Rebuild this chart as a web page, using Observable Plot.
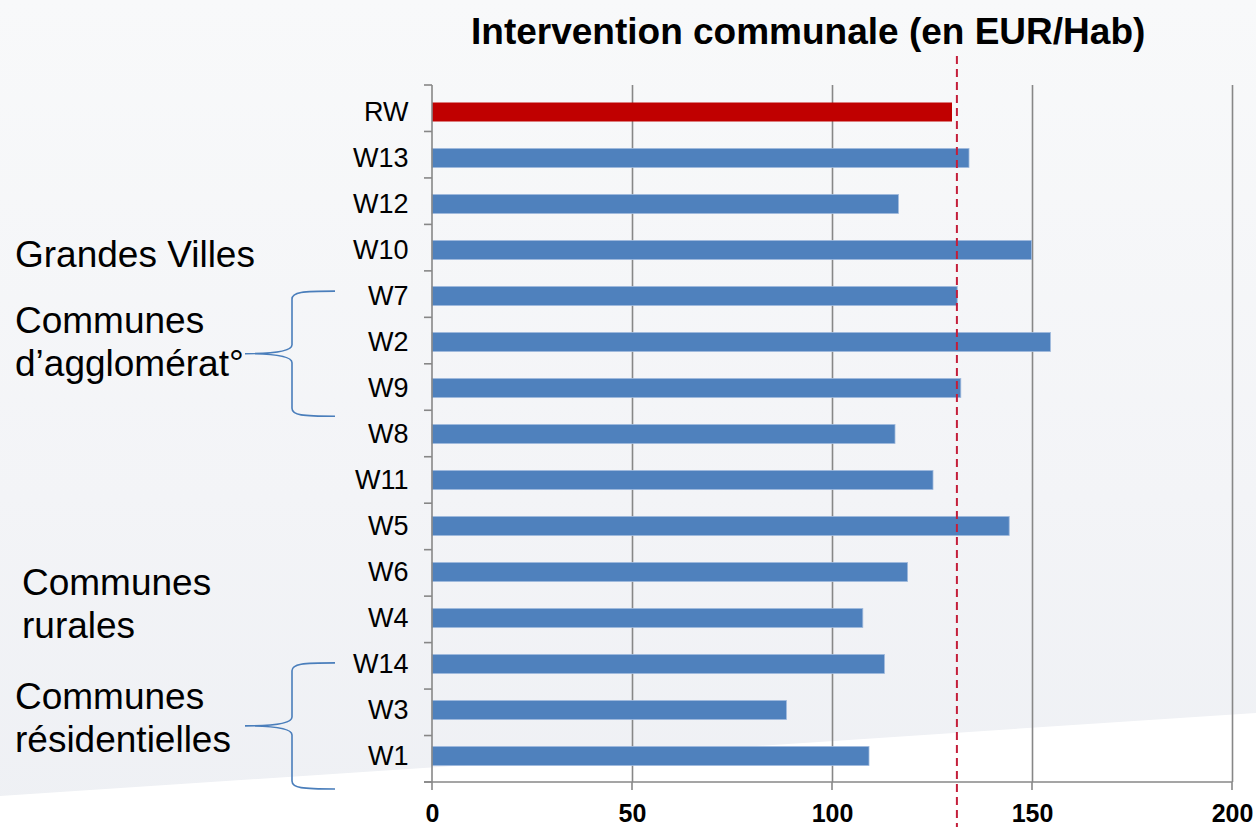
<!DOCTYPE html>
<html>
<head>
<meta charset="utf-8">
<script src="https://cdn.jsdelivr.net/npm/d3@7"></script>
<script src="https://cdn.jsdelivr.net/npm/@observablehq/plot@0.6"></script>
<style>
  html, body { margin: 0; padding: 0; }
  body {
    width: 1256px; height: 827px; overflow: hidden; position: relative;
    background: linear-gradient(to bottom, #f8f9fa 0%, #f3f4f7 60%, #eef0f4 100%);
    font-family: "Liberation Sans", Arial, sans-serif;
  }
  #wedge {
    position: absolute; left: 0; top: 0; width: 1256px; height: 827px;
    background: #ffffff;
    clip-path: polygon(0px 796px, 1256px 713px, 1256px 827px, 0px 827px);
    z-index: 0;
  }
  #content { position: relative; z-index: 1; }
  #title {
    height: 48px; box-sizing: border-box; padding-top: 13px; padding-left: 471px;
    font-size: 37px; line-height: 37px; font-weight: bold; color: #000; white-space: nowrap;
  }
</style>
</head>
<body>
<div id="wedge"></div>
<div id="content">
  <div id="title">Intervention communale (en EUR/Hab)</div>
  <div id="chart"></div>
</div>
<script>
// ---- Data ----
const categories = ["RW","W13","W12","W10","W7","W2","W9","W8","W11","W5","W6","W4","W14","W3","W1"];
const values     = [130, 134.25, 116.6, 149.9, 131.3, 154.6, 132.2, 115.75, 125.25, 144.3, 118.9, 107.7, 113.1, 88.6, 109.25];
const highlight  = "RW";
const refValue   = 131.1;
const xTicks     = [0, 50, 100, 150, 200];
const groupLabels  = [["Grandes Villes"], ["Communes", "d’agglomérat°"], ["Communes", "rurales"], ["Communes", "résidentielles"]];
const groupAnchors = ["W10", "W2", "W6", "W3"];
const bracedGroups = [["W7", "W9", "W8"], ["W14", "W1", null]];

const data = categories.map((c, i) => ({cat: c, value: values[i]}));

const gray = "#878787";
const plot = Plot.plot({
  width: 1256,
  height: 779,
  marginLeft: 432,
  marginRight: 24,
  marginTop: 37,
  marginBottom: 45,
  style: {background: "transparent", fontFamily: "'Liberation Sans', Arial, sans-serif", fontSize: "25px", color: "#000", overflow: "visible"},
  x: {domain: [0, 200], axis: null},
  y: {domain: categories, padding: 0, axis: null},
  marks: [
    Plot.ruleX(xTicks.filter(d => d > 0), {stroke: gray, strokeWidth: 1.6}),
    Plot.barX(data.filter(d => d.cat !== highlight), {x: "value", y: "cat", fill: "#4f81bd", stroke: "#9fb9dc", strokeWidth: 0.8, insetTop: 13.5, insetBottom: 13.5}),
    Plot.barX(data.filter(d => d.cat === highlight), {x: "value", y: "cat", fill: "#c00000", insetTop: 13.5, insetBottom: 13.5}),
    Plot.ruleX([refValue], {stroke: "#c41e3a", strokeWidth: 2, strokeDasharray: "8,5", insetTop: -29, insetBottom: -45}),
    Plot.text(categories, {y: d => d, frameAnchor: "left", dx: -24, textAnchor: "end", fill: "#000", fontSize: 27}),
    Plot.text(xTicks, {x: d => d, frameAnchor: "bottom", dy: 22, lineAnchor: "top", fill: "#000", fontSize: 25, fontWeight: "bold"})
  ]
});
document.getElementById("chart").appendChild(plot);

// ---- Axis lines, boundary ticks, group annotations ----
const svg = d3.select(plot);
const ysc = plot.scale("y");
const xsc = plot.scale("x");
const [r0, r1] = ysc.range;
const step = (r1 - r0) / categories.length;
const bandStart = c => r0 + categories.indexOf(c) * step;
const bandCenter = c => bandStart(c) + step / 2;
const x0 = xsc.apply(0), x200 = xsc.apply(200);

const g = svg.append("g").attr("stroke", gray).attr("stroke-width", 1.6).attr("fill", "none");
// y axis line + ticks at band boundaries
g.append("line").attr("x1", x0).attr("x2", x0).attr("y1", r0).attr("y2", r1);
for (let i = 0; i <= categories.length; i++) {
  const y = r0 + i * step;
  g.append("line").attr("x1", x0 - 8).attr("x2", x0).attr("y1", y).attr("y2", y);
}
// x axis line + ticks
g.append("line").attr("x1", x0 - 8).attr("x2", x200).attr("y1", r1).attr("y2", r1);
xTicks.forEach(v => {
  const x = xsc.apply(v);
  g.append("line").attr("x1", x).attr("x2", x).attr("y1", r1).attr("y2", r1 + 8);
});

// group labels
const labelX = [15, 15, 22, 15];
const labelDy = [19, -8, 22, -3];
groupLabels.forEach((lines, k) => {
  const base = bandCenter(groupAnchors[k]) + labelDy[k];
  const t = svg.append("text")
    .attr("x", labelX[k]).attr("y", base)
    .attr("text-anchor", "start")
    .attr("font-size", 37).attr("fill", "#000")
    .attr("font-family", "'Liberation Sans', Arial, sans-serif");
  lines.forEach((ln, j) => {
    t.append("tspan").attr("x", labelX[k]).attr("y", base + j * 43).attr("text-anchor", "start").text(ln);
  });
});

// braces
const bracePath = (yt, yb) => {
  const ym = (yt + yb) / 2, xr = 335, xv = 292, xt = 245;
  return `M${xr},${yt} C${xv + 10},${yt} ${xv},${yt + 1} ${xv},${yt + 8} L${xv},${ym - 9} C${xv},${ym - 2} ${xv - 20},${ym} ${xt},${ym} C${xv - 20},${ym} ${xv},${ym + 2} ${xv},${ym + 9} L${xv},${yb - 8} C${xv},${yb - 1} ${xv + 10},${yb} ${xr},${yb}`;
};
bracedGroups.forEach(([first, last, next]) => {
  const yt = bandCenter(first) - 3;
  const yb = next ? bandStart(next) + 6 : r1 + 7;
  svg.append("path").attr("d", bracePath(yt, yb))
    .attr("fill", "none").attr("stroke", "#4a7ebb").attr("stroke-width", 1.6);
});
</script>
</body>
</html>
